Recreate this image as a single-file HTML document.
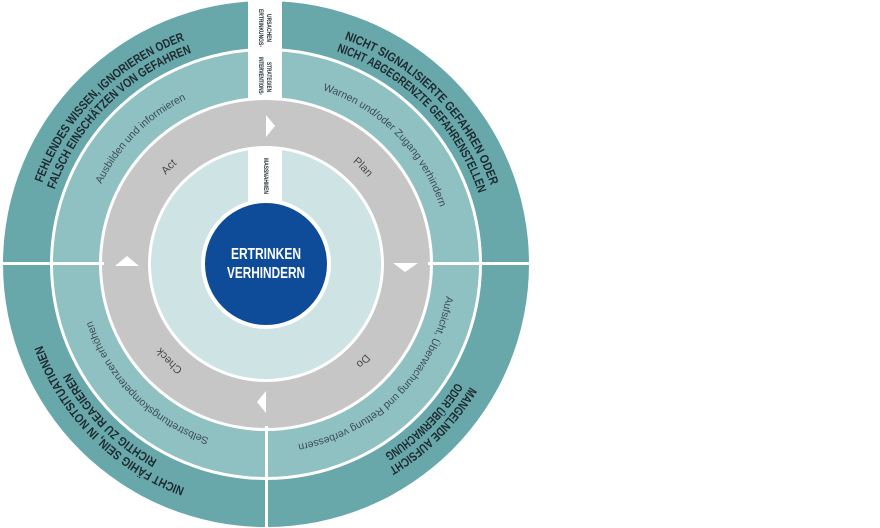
<!DOCTYPE html>
<html><head><meta charset="utf-8"><style>
html,body{margin:0;padding:0;background:#fff;width:880px;height:528px;overflow:hidden}
svg{display:block}
.o{font-family:"Liberation Sans Narrow","Liberation Sans",sans-serif;font-weight:bold;font-size:12.5px;fill:#1f2b30}
.m{font-family:"Liberation Sans",sans-serif;font-size:10.5px;fill:#3e4d52}
.g{font-family:"Liberation Sans",sans-serif;font-size:11px;fill:#4a4a4a}
.b{font-family:"Liberation Sans Narrow","Liberation Sans",sans-serif;font-weight:bold;font-size:6px;fill:#1f2b30}
</style></head><body>
<svg width="880" height="528" viewBox="0 0 880 528" xmlns="http://www.w3.org/2000/svg">
<defs>
<path id="tl1" d="M28,264 A238,238 0 0 1 266,26"/>
<path id="tl2" d="M42,264 A224,224 0 0 1 266,40"/>
<path id="tr1" d="M266,26 A238,238 0 0 1 504,264"/>
<path id="tr2" d="M266,40 A224,224 0 0 1 490,264"/>
<path id="br1" d="M504,264 A238,238 0 0 1 266,502"/>
<path id="br2" d="M490,264 A224,224 0 0 1 266,488"/>
<path id="bl1" d="M266,502 A238,238 0 0 1 28,264"/>
<path id="bl2" d="M266,488 A224,224 0 0 1 42,264"/>
<path id="mtl" d="M83,264 A183,183 0 0 1 266,81"/>
<path id="mtr" d="M266,81 A183,183 0 0 1 449,264"/>
<path id="mbr" d="M449,264 A183,183 0 0 1 266,447"/>
<path id="mbl" d="M266,447 A183,183 0 0 1 83,264"/>
<path id="gtl" d="M132,264 A134,134 0 0 1 266,130"/>
<path id="gtr" d="M266,130 A134,134 0 0 1 400,264"/>
<path id="gbr" d="M400,264 A134,134 0 0 1 266,398"/>
<path id="gbl" d="M266,398 A134,134 0 0 1 132,264"/>
</defs>
<circle cx="266" cy="264" r="263" fill="#68a7aa"/>
<circle cx="266" cy="264" r="216" fill="#fff"/>
<circle cx="266" cy="264" r="213" fill="#8fc0c2"/>
<circle cx="266" cy="264" r="167" fill="#fff"/>
<circle cx="266" cy="264" r="164" fill="#c6c6c6"/>
<circle cx="266" cy="264" r="118" fill="#fff"/>
<circle cx="266" cy="264" r="115" fill="#cde3e4"/>
<rect x="0" y="262" width="104" height="3" fill="#fff"/>
<rect x="428" y="262" width="104" height="3" fill="#fff"/>
<rect x="265" y="426" width="3" height="102" fill="#fff"/>
<rect x="248" y="0" width="34" height="98" fill="#fff"/>
<rect x="248" y="148" width="34" height="60" fill="#fff"/>
<circle cx="266" cy="264" r="65" fill="#fff"/>
<circle cx="266" cy="264" r="61" fill="#0e4c9a"/>
<text x="266" y="259" text-anchor="middle" font-family="Liberation Sans Narrow,Liberation Sans,sans-serif" font-weight="bold" font-size="16" fill="#fff" textLength="70" lengthAdjust="spacingAndGlyphs">ERTRINKEN</text>
<text x="266" y="278" text-anchor="middle" font-family="Liberation Sans Narrow,Liberation Sans,sans-serif" font-weight="bold" font-size="16" fill="#fff" textLength="78" lengthAdjust="spacingAndGlyphs">VERHINDERN</text>
<g transform="translate(259,9) rotate(90)"><text class="b" x="0" y="0" textLength="38" lengthAdjust="spacingAndGlyphs">ERTRINKUNGS-</text></g>
<g transform="translate(267,14) rotate(90)"><text class="b" x="0" y="0" textLength="28" lengthAdjust="spacingAndGlyphs">URSACHEN</text></g>
<g transform="translate(259,57) rotate(90)"><text class="b" x="0" y="0" textLength="38" lengthAdjust="spacingAndGlyphs">INTERVENTIONS-</text></g>
<g transform="translate(267,62) rotate(90)"><text class="b" x="0" y="0" textLength="30" lengthAdjust="spacingAndGlyphs">STRATEGIEN</text></g>
<g transform="translate(264,158) rotate(90)"><text class="b" x="0" y="0" textLength="36" lengthAdjust="spacingAndGlyphs">MASSNAHMEN</text></g>
<text class="o"><textPath href="#tl1" startOffset="50%" text-anchor="middle" textLength="208" lengthAdjust="spacingAndGlyphs">FEHLENDES WISSEN, IGNORIEREN ODER</textPath></text>
<text class="o"><textPath href="#tl2" startOffset="50%" text-anchor="middle" textLength="200" lengthAdjust="spacingAndGlyphs">FALSCH EINSCHÄTZEN VON GEFAHREN</textPath></text>
<text class="o"><textPath href="#tr1" startOffset="50%" text-anchor="middle" textLength="214" lengthAdjust="spacingAndGlyphs">NICHT SIGNALISIERTE GEFAHREN ODER</textPath></text>
<text class="o"><textPath href="#tr2" startOffset="50%" text-anchor="middle" textLength="208" lengthAdjust="spacingAndGlyphs">NICHT ABGEGRENZTE GEFAHRENSTELLEN</textPath></text>
<text class="o"><textPath href="#br1" startOffset="50%" text-anchor="middle" textLength="116" lengthAdjust="spacingAndGlyphs">MANGELNDE AUFSICHT</textPath></text>
<text class="o"><textPath href="#br2" startOffset="50%" text-anchor="middle" textLength="102" lengthAdjust="spacingAndGlyphs">ODER ÜBERWACHUNG</textPath></text>
<text class="o"><textPath href="#bl1" startOffset="50%" text-anchor="middle" textLength="208" lengthAdjust="spacingAndGlyphs">NICHT FÄHIG SEIN, IN NOTSITUATIONEN</textPath></text>
<text class="o"><textPath href="#bl2" startOffset="50%" text-anchor="middle" textLength="125" lengthAdjust="spacingAndGlyphs">RICHTIG ZU REAGIEREN</textPath></text>
<text class="m"><textPath href="#mtl" startOffset="50%" text-anchor="middle">Ausbilden und informieren</textPath></text>
<text class="m"><textPath href="#mtr" startOffset="50%" text-anchor="middle">Warnen und/oder Zugang verhindern</textPath></text>
<text class="m"><textPath href="#mbr" startOffset="50%" text-anchor="middle">Aufsicht, Überwachung und Rettung verbessern</textPath></text>
<text class="m"><textPath href="#mbl" startOffset="50%" text-anchor="middle">Selbstrettungskompetenzen erhöhen</textPath></text>
<text class="g"><textPath href="#gtl" startOffset="50%" text-anchor="middle">Act</textPath></text>
<text class="g"><textPath href="#gtr" startOffset="50%" text-anchor="middle">Plan</textPath></text>
<text class="g"><textPath href="#gbr" startOffset="50%" text-anchor="middle">Do</textPath></text>
<text class="g"><textPath href="#gbl" startOffset="50%" text-anchor="middle">Check</textPath></text>
<polygon points="266,115 275,126 266,137" fill="#fff"/>
<polygon points="393,263 418,263 405,272" fill="#fff"/>
<polygon points="266,391 266,413 257,402" fill="#fff"/>
<polygon points="115,266 139,266 127,256" fill="#fff"/>
</svg>
</body></html>
